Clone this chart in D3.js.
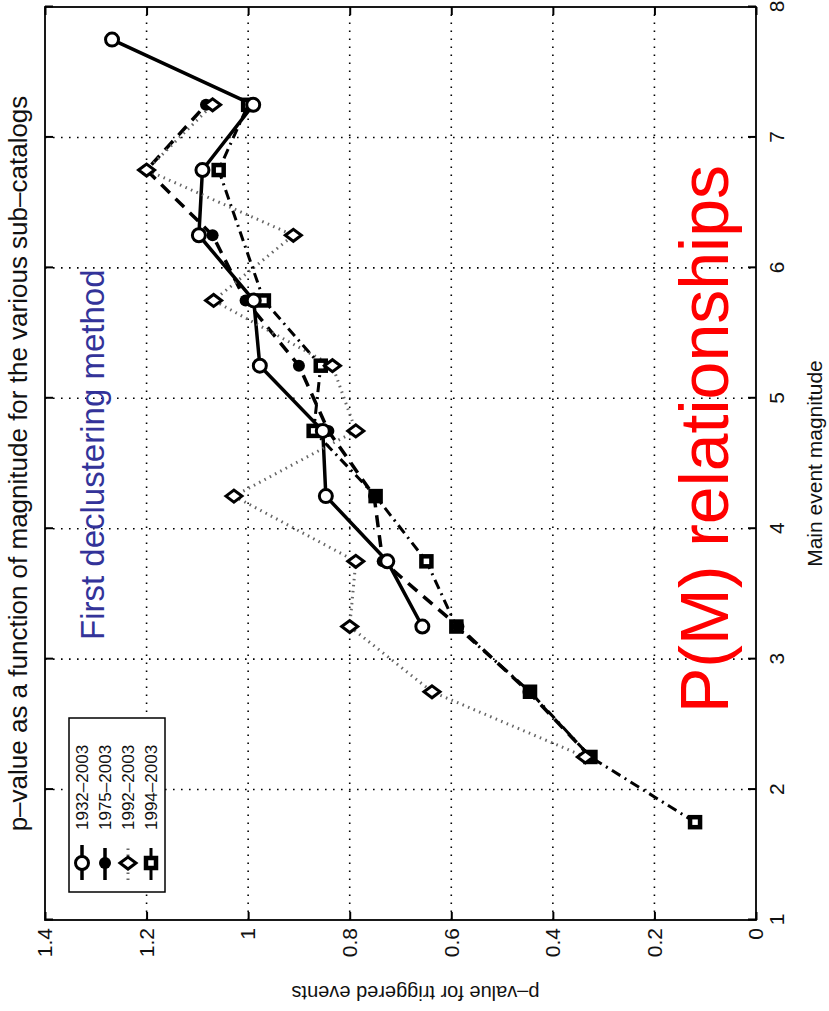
<!DOCTYPE html>
<html>
<head>
<meta charset="utf-8">
<script src="https://cdn.jsdelivr.net/npm/d3@7"></script>
<style>
  body { margin: 0; background: #fff; }
  text { font-family: "Liberation Sans", Arial, sans-serif; }
</style>
</head>
<body>
<div id="wrapper"></div>
<script>
// series (magnitude, p-value)
const mag1932 = [3.25, 3.75, 4.25, 4.75, 5.25, 5.75, 6.25, 6.75, 7.25, 7.75]
const p1932 = [0.657, 0.726, 0.847, 0.853, 0.977, 0.989, 1.097, 1.09, 0.99, 1.268]
const mag1975 = [2.25, 2.75, 3.25, 3.75, 4.25, 4.75, 5.25, 5.75, 6.25, 6.75, 7.25]
const p1975 = [0.326, 0.448, 0.586, 0.735, 0.752, 0.842, 0.90, 1.005, 1.07, 1.2, 1.083]
const mag1992 = [2.25, 2.75, 3.25, 3.75, 4.25, 4.75, 5.25, 5.75, 6.25, 6.75, 7.25]
const p1992 = [0.336, 0.638, 0.80, 0.788, 1.028, 0.788, 0.834, 1.068, 0.911, 1.2, 1.07]
const mag1994 = [1.75, 2.25, 2.75, 3.25, 3.75, 4.25, 4.75, 5.25, 5.75, 6.75, 7.25]
const p1994 = [0.12, 0.326, 0.445, 0.59, 0.649, 0.749, 0.871, 0.857, 0.969, 1.058, 1.0]

const seriesNames = ["1932–2003", "1975–2003", "1992–2003", "1994–2003"]
const magTicks = [1, 2, 3, 4, 5, 6, 7, 8]
const pTicks = [0, 0.2, 0.4, 0.6, 0.8, 1, 1.2, 1.4]

function drawChart() {
    let dimensions = {
        width: 829,
        height: 1011,
        // plot box on the page (the whole figure is turned a quarter turn)
        left: 45,
        bottom: 920,
        plotLength: 913,   // magnitude axis, runs up the page
        plotDepth: 711,    // p-value axis, runs across the page
    }

    const svg = d3.select("#wrapper")
        .append("svg")
        .attr("width", dimensions.width)
        .attr("height", dimensions.height)

    // everything is drawn as a normal chart, then rotated -90
    const g = svg.append("g")
        .attr("transform", `translate(${dimensions.left},${dimensions.bottom}) rotate(-90)`)

    const W = dimensions.plotLength
    const H = dimensions.plotDepth

    const x = d3.scaleLinear().domain([1, 8]).range([0, W])
    const y = d3.scaleLinear().domain([0, 1.4]).range([H, 0])

    // grid
    const grid = g.append("g")
    grid.selectAll(".vg")
        .data(magTicks.slice(1, -1))
        .join("line")
        .attr("x1", d => x(d)).attr("x2", d => x(d))
        .attr("y1", 0).attr("y2", H)
        .attr("stroke", "#000").attr("stroke-width", 1.6)
        .attr("stroke-dasharray", "1.6,6.4")
    grid.selectAll(".hg")
        .data(pTicks.slice(1, -1))
        .join("line")
        .attr("y1", d => y(d)).attr("y2", d => y(d))
        .attr("x1", 0).attr("x2", W)
        .attr("stroke", "#000").attr("stroke-width", 1.6)
        .attr("stroke-dasharray", "1.6,6.4")

    const pFormat = d => d === 0 ? "0" : d3.format("~g")(+d.toFixed(1))

    // axes, ticks inward
    g.append("g")
        .attr("transform", `translate(0,${H})`)
        .call(d3.axisBottom(x).tickValues(magTicks).tickFormat(d3.format("d"))
            .tickSizeInner(-8).tickSizeOuter(0).tickPadding(13))
        .call(a => a.select(".domain").remove())
        .call(a => a.selectAll("line").attr("stroke-width", 2))
        .call(a => a.selectAll("text").attr("font-size", 21).attr("fill", "#111"))
    g.append("g")
        .call(d3.axisLeft(y).tickValues(pTicks).tickFormat(pFormat)
            .tickSizeInner(-8).tickSizeOuter(0).tickPadding(8))
        .call(a => a.select(".domain").remove())
        .call(a => a.selectAll("line").attr("stroke-width", 2))
        .call(a => a.selectAll("text").attr("font-size", 21).attr("fill", "#111"))
    g.append("g")
        .call(d3.axisTop(x).tickValues(magTicks).tickSizeInner(-8).tickSizeOuter(0).tickFormat(""))
        .call(a => a.select(".domain").remove())
        .call(a => a.selectAll("line").attr("stroke-width", 2))
    g.append("g")
        .attr("transform", `translate(${W},0)`)
        .call(d3.axisRight(y).tickValues(pTicks).tickSizeInner(-8).tickSizeOuter(0).tickFormat(""))
        .call(a => a.select(".domain").remove())
        .call(a => a.selectAll("line").attr("stroke-width", 2))

    g.append("rect")
        .attr("width", W).attr("height", H)
        .attr("fill", "none").attr("stroke", "#000").attr("stroke-width", 1.8)

    // series
    const series = [
        { name: seriesNames[0], mag: mag1932, p: p1932, dash: null, color: "#000", width: 3.5, marker: "circle" },
        { name: seriesNames[1], mag: mag1975, p: p1975, dash: "12,8", color: "#000", width: 3.5, marker: "dot" },
        { name: seriesNames[2], mag: mag1992, p: p1992, dash: "1.5,4.5", color: "#666", width: 3, marker: "diamond" },
        { name: seriesNames[3], mag: mag1994, p: p1994, dash: "10,5,2,5", color: "#000", width: 3, marker: "square" },
    ]

    const line = d3.line().x(d => x(d[0])).y(d => y(d[1]))

    const lines = g.append("g")
    series.forEach(s => {
        lines.append("path")
            .datum(d3.zip(s.mag, s.p))
            .attr("d", line)
            .attr("fill", "none")
            .attr("stroke", s.color)
            .attr("stroke-width", s.width)
            .attr("stroke-dasharray", s.dash)
            .attr("stroke-linejoin", "round")
    })

    function addMarker(sel, type) {
        if (type === "circle") {
            sel.append("circle").attr("r", 6.5).attr("fill", "#fff")
                .attr("stroke", "#000").attr("stroke-width", 3)
        } else if (type === "dot") {
            sel.append("circle").attr("r", 6).attr("fill", "#000")
        } else if (type === "diamond") {
            sel.append("path").attr("d", "M0,-8L6,0L0,8L-6,0Z").attr("fill", "#fff")
                .attr("stroke", "#000").attr("stroke-width", 3)
        } else {
            sel.append("rect").attr("x", -5).attr("y", -5).attr("width", 10).attr("height", 10)
                .attr("fill", "#fff").attr("stroke", "#000").attr("stroke-width", 4.5)
        }
    }

    const markers = g.append("g")
    const drawOrder = [3, 1, 2, 0]
    drawOrder.forEach(i => {
        const s = series[i]
        markers.selectAll(null)
            .data(d3.zip(s.mag, s.p))
            .join("g")
            .attr("transform", d => `translate(${x(d[0])},${y(d[1])})`)
            .each(function () { addMarker(d3.select(this), s.marker) })
    })

    // legend
    const legend = g.append("g").attr("transform", "translate(28,24)")
    legend.append("rect")
        .attr("width", 174).attr("height", 96)
        .attr("fill", "#fff").attr("stroke", "#000").attr("stroke-width", 1.5)
    series.forEach((s, i) => {
        const row = legend.append("g").attr("transform", `translate(0,${13 + i * 23})`)
        row.append("line")
            .attr("x1", 12).attr("x2", 47)
            .attr("stroke", s.color).attr("stroke-width", s.width)
            .attr("stroke-dasharray", s.dash)
        addMarker(row.append("g").attr("transform", "translate(29,0)"), s.marker)
        row.append("text")
            .attr("x", 62).attr("dy", "0.35em")
            .attr("font-size", 17).attr("fill", "#111")
            .text(s.name)
    })

    // titles and labels
    g.append("text")
        .attr("x", W / 2).attr("y", -18)
        .attr("text-anchor", "middle")
        .attr("font-size", 26).attr("fill", "#111")
        .text("p–value as a function of magnitude for the various sub–catalogs")
    g.append("text")
        .attr("x", W / 2).attr("y", H + 66)
        .attr("text-anchor", "middle")
        .attr("font-size", 21).attr("fill", "#111")
        .text("Main event magnitude")
    g.append("text")
        .attr("transform", `translate(-66,${H / 2 + 15}) rotate(-90)`)
        .attr("text-anchor", "middle")
        .attr("font-size", 20).attr("fill", "#111")
        .text("p–value for triggered events")

    g.append("text")
        .attr("x", 280).attr("y", 59)
        .attr("font-size", 33).attr("fill", "#333399")
        .text("First declustering method")
    g.append("text")
        .attr("x", 207).attr("y", 683)
        .attr("font-size", 68).attr("fill", "#ff0000")
        .text("P(M) relationships")
}

drawChart()
</script>
</body>
</html>
